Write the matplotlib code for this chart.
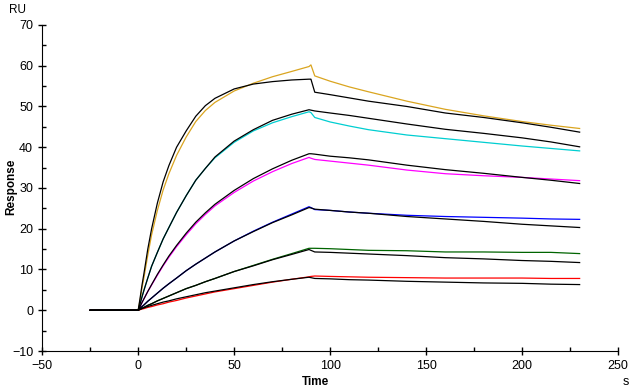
import matplotlib
matplotlib.use('Agg')
import matplotlib.pyplot as plt
from matplotlib.ticker import MultipleLocator

plt.rcParams['font.family'] = ['Liberation Sans', 'DejaVu Sans']

# 时间轴 (s)
time = [-25, 0, 1, 2, 3, 5, 7, 10, 13, 16, 20, 25, 30, 35, 40, 50, 60, 70, 80, 89,
        90, 92, 100, 110, 120, 140, 160, 180, 200, 215, 230]

# 实测曲线 (RU)
orange = [0, 0, 2.5, 5.5, 8, 13.5, 18.5, 24.5, 29.5, 33.5, 38, 42.5, 46.3, 49, 51, 53.8, 55.7, 57.3, 58.6, 59.8,
          60.2, 57.5, 56.2, 54.8, 53.6, 51.3, 49.3, 47.7, 46.3, 45.4, 44.6]
cyan = [0, 0, 1.6, 3.3, 4.9, 7.9, 10.8, 14.2, 17.5, 20.3, 24, 28.1, 31.9, 34.8, 37.4, 41.2, 44.0, 46.0, 47.5, 48.7,
        48.5, 47.3, 46.2, 45.2, 44.3, 43.0, 42.1, 41.2, 40.3, 39.7, 39.1]
magenta = [0, 0, 0.9, 1.9, 2.8, 4.6, 6.2, 8.6, 10.9, 13.0, 15.6, 18.5, 21.2, 23.5, 25.6, 28.9, 31.7, 34.0, 36.0, 37.5,
           37.3, 37.0, 36.6, 36.1, 35.6, 34.4, 33.5, 33.0, 32.6, 32.2, 31.8]
blue = [0, 0, 0.5, 0.9, 1.3, 2.2, 3.0, 4.2, 5.4, 6.5, 7.9, 9.7, 11.3, 12.8, 14.3, 17.0, 19.4, 21.6, 23.6, 25.4,
        25.2, 24.7, 24.5, 24.1, 23.8, 23.3, 23.0, 22.8, 22.6, 22.4, 22.3]
green = [0, 0, 0.25, 0.5, 0.7, 1.2, 1.6, 2.3, 2.9, 3.5, 4.3, 5.3, 6.1, 7.0, 7.8, 9.5, 11.0, 12.5, 13.9, 15.2,
         15.2, 15.2, 15.1, 14.9, 14.7, 14.6, 14.3, 14.3, 14.2, 14.2, 13.9]
red = [0, 0, 0.15, 0.3, 0.4, 0.7, 0.9, 1.3, 1.6, 2.0, 2.4, 3.0, 3.5, 4.0, 4.5, 5.3, 6.1, 6.9, 7.6, 8.2,
       8.3, 8.4, 8.3, 8.2, 8.1, 8.0, 7.9, 7.9, 7.9, 7.8, 7.8]

# 拟合曲线 (黑色)
fit1 = [0, 0, 3, 6.2, 9, 15, 20, 26.3, 31.5, 35.5, 40, 44, 47.6, 50.2, 52, 54.3, 55.5, 56.1, 56.5, 56.7,
        56.7, 53.5, 52.9, 52.1, 51.3, 50.0, 48.4, 47.3, 46.0, 44.9, 43.7]
fit2 = [0, 0, 1.6, 3.3, 4.9, 7.9, 10.8, 14.2, 17.5, 20.3, 24, 28.1, 31.9, 34.8, 37.6, 41.5, 44.3, 46.6, 48.1, 49.2,
        49.1, 48.9, 48.4, 47.8, 47.1, 45.7, 44.4, 43.4, 42.3, 41.3, 40.1]
fit3 = [0, 0, 0.9, 1.9, 2.8, 4.6, 6.3, 8.8, 11.1, 13.3, 15.9, 18.9, 21.6, 23.9, 26.0, 29.4, 32.3, 34.7, 36.8, 38.4,
        38.4, 38.3, 37.8, 37.4, 36.9, 35.6, 34.5, 33.6, 32.6, 31.9, 31.1]
fit4 = [0, 0, 0.5, 0.9, 1.3, 2.2, 3.0, 4.2, 5.4, 6.5, 7.9, 9.7, 11.3, 12.8, 14.3, 17.0, 19.3, 21.5, 23.4, 25.2,
        25.1, 24.8, 24.5, 24.1, 23.8, 23.0, 22.4, 21.8, 21.1, 20.7, 20.3]
fit5 = [0, 0, 0.25, 0.5, 0.7, 1.2, 1.6, 2.3, 2.9, 3.5, 4.3, 5.3, 6.1, 7.0, 7.8, 9.5, 10.9, 12.4, 13.7, 14.9,
        14.7, 14.3, 14.2, 14.0, 13.8, 13.4, 12.9, 12.6, 12.2, 12.0, 11.7]
fit6 = [0, 0, 0.2, 0.4, 0.6, 0.9, 1.2, 1.6, 2.0, 2.3, 2.8, 3.3, 3.8, 4.3, 4.7, 5.5, 6.3, 7.0, 7.6, 8.1,
        8.0, 7.8, 7.7, 7.5, 7.4, 7.1, 6.9, 6.7, 6.6, 6.4, 6.3]

data_series = [orange, cyan, magenta, blue, green, red]
data_colors = ['#DAA520', '#00CED1', '#FF00FF', '#0000FF', '#006400', '#FF0000']
fit_series = [fit1, fit2, fit3, fit4, fit5, fit6]

fig = plt.figure(figsize=(6.3, 3.9), dpi=100)
ax = fig.add_axes([0.067, 0.1, 0.914, 0.836])

for ys, c in zip(data_series, data_colors):
    ax.plot(time, ys, color=c, lw=0.9)
for ys in fit_series:
    ax.plot(time, ys, color='black', lw=0.9)

ax.set_xlim(-50, 250)
ax.set_ylim(-10, 70)
ax.xaxis.set_major_locator(MultipleLocator(50))
ax.xaxis.set_minor_locator(MultipleLocator(25))
ax.yaxis.set_major_locator(MultipleLocator(10))
ax.yaxis.set_minor_locator(MultipleLocator(5))
ax.spines['top'].set_visible(False)
ax.spines['right'].set_visible(False)
ax.tick_params(which='major', direction='inout', length=6, width=1, labelsize=9)
ax.tick_params(which='minor', direction='in', length=3, width=1)

fig.text(0.5, 0.005, 'Time', ha='center', va='bottom', fontsize=8.5, fontweight='bold')
fig.text(0.008, 0.52, 'Response', ha='left', va='center', rotation=90,
         fontsize=8.5, fontweight='bold')
fig.text(0.015, 0.975, 'RU', ha='left', va='center', fontsize=8.5)
fig.text(0.998, 0.005, 's', ha='right', va='bottom', fontsize=9)

fig.savefig('out.png', dpi=100)
